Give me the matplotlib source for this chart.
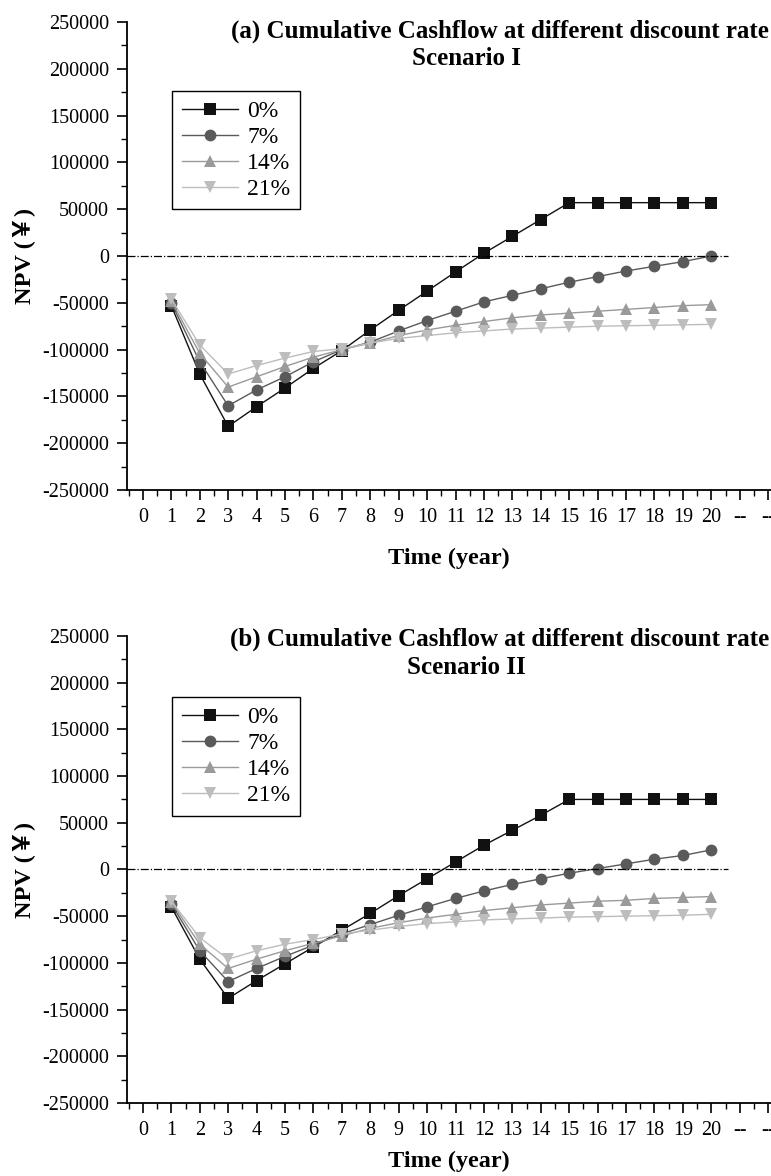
import numpy as np
import matplotlib
matplotlib.use("Agg")
import matplotlib.pyplot as plt
from matplotlib.ticker import MultipleLocator, FixedLocator

plt.rcParams['font.family'] = ['Liberation Serif', 'Noto Sans CJK SC']
plt.rcParams['axes.unicode_minus'] = False

years = list(range(1, 21))
rates = ['0%', '7%', '14%', '21%']

# Scenario I cumulative NPV
s1_r0 = [-53000, -126000, -182000, -161000, -141000, -120000, -101000, -79000, -58000, -37500,
         -17000, 3000, 21000, 39000, 57000, 57000, 57000, 57000, 57000, 57000]
s1_r7 = [-50000, -113000, -160000, -143000, -129000, -113000, -100000, -92000, -80000, -69000,
         -59000, -49000, -42000, -35000, -28000, -22000, -16000, -11000, -6000, 0]
s1_r14 = [-48000, -104000, -140000, -129000, -118000, -108000, -100000, -93000, -85000, -79000,
          -74000, -70000, -66000, -63000, -61000, -59000, -57000, -55000, -53000, -52000]
s1_r21 = [-46000, -95000, -126000, -117000, -109000, -102000, -99000, -93000, -88000, -85000,
          -82000, -80000, -78000, -77000, -76000, -75000, -74500, -74000, -73500, -73000]

# Scenario II cumulative NPV
s2_r0 = [-40000, -96000, -138000, -119000, -101000, -83000, -65000, -47000, -28000, -10000,
         8000, 26000, 42000, 58000, 75000, 75000, 75000, 75000, 75000, 75000]
s2_r7 = [-37000, -87000, -120000, -106000, -93000, -81000, -69000, -59000, -49000, -40000,
         -31000, -23000, -16000, -10000, -4000, 1000, 6000, 11000, 15000, 21000]
s2_r14 = [-35000, -80000, -106000, -96000, -87000, -79000, -71000, -63000, -57000, -52000,
          -48000, -44000, -41000, -38000, -36000, -34000, -33000, -31000, -30000, -29000]
s2_r21 = [-34000, -73000, -96000, -87000, -80000, -75000, -69000, -65000, -61000, -58000,
          -56000, -54000, -53000, -52000, -51000, -50500, -50000, -49500, -49000, -48000]

xtick_labels = [str(i) for i in range(21)] + ['--', '--']

colors = ['#111111', '#5a5a5a', '#9a9a9a', '#bdbdbd']
markers = ['s', 'o', '^', 'v']


def draw_panel(ax, series, title, scenario, title_y, scen_y, leg_top, xpad):
    for vals, lab, c, m in zip(series, rates, colors, markers):
        ax.plot(years, vals, color=c, marker=m, markersize=8.5, linewidth=1.0,
                markeredgewidth=0, label=lab)
    ax.hlines(0, -0.56, 20.6, colors='black', linestyles='dashdot', linewidth=0.9)

    ax.set_xlim(-0.56, 22.1)
    ax.set_ylim(-250000, 250000)
    ax.xaxis.set_major_locator(FixedLocator(range(len(xtick_labels))))
    ax.set_xticklabels(xtick_labels)
    ax.xaxis.set_minor_locator(MultipleLocator(0.5))
    ax.yaxis.set_major_locator(MultipleLocator(50000))
    ax.yaxis.set_minor_locator(MultipleLocator(25000))
    ax.tick_params(which='major', direction='out', length=7, width=1.2, labelsize=14.5, pad=6)
    ax.tick_params(which='minor', direction='out', length=4, width=1.0)
    for s in ['top', 'right']:
        ax.spines[s].set_visible(False)
    for s in ['left', 'bottom']:
        ax.spines[s].set_linewidth(1.3)

    ax.set_xlabel('Time (year)', fontsize=17.5, fontweight='bold', labelpad=xpad)
    ax.set_ylabel('NPV (￥)', fontsize=17.5, fontweight='bold', labelpad=5)

    ax.text(0.997, title_y, title, transform=ax.transAxes, ha='right', va='center',
            fontsize=18, fontweight='bold')
    ax.text(0.527, scen_y, scenario, transform=ax.transAxes, ha='center', va='center',
            fontsize=18, fontweight='bold')

    leg = ax.legend(loc='upper left', bbox_to_anchor=(0.07, leg_top), borderaxespad=0,
                    fontsize=17, frameon=True, fancybox=False, edgecolor='black',
                    framealpha=1, handlelength=2.4, handletextpad=0.38, borderpad=0.4,
                    labelspacing=0.19)
    leg.get_frame().set_linewidth(1.0)


fig = plt.figure(figsize=(7.71, 11.76), dpi=100)
ax1 = fig.add_axes([0.1647, 0.5833, 0.8353, 0.3980])
ax2 = fig.add_axes([0.1647, 0.0621, 0.8353, 0.3971])

draw_panel(ax1, [s1_r0, s1_r7, s1_r14, s1_r21],
           '(a) Cumulative Cashflow at different discount rate', 'Scenario I',
           0.981, 0.921, 0.853, 15)
draw_panel(ax2, [s2_r0, s2_r7, s2_r14, s2_r21],
           '(b) Cumulative Cashflow at different discount rate', 'Scenario II',
           0.992, 0.932, 0.869, 8)

fig.savefig('out.png', dpi=100)
